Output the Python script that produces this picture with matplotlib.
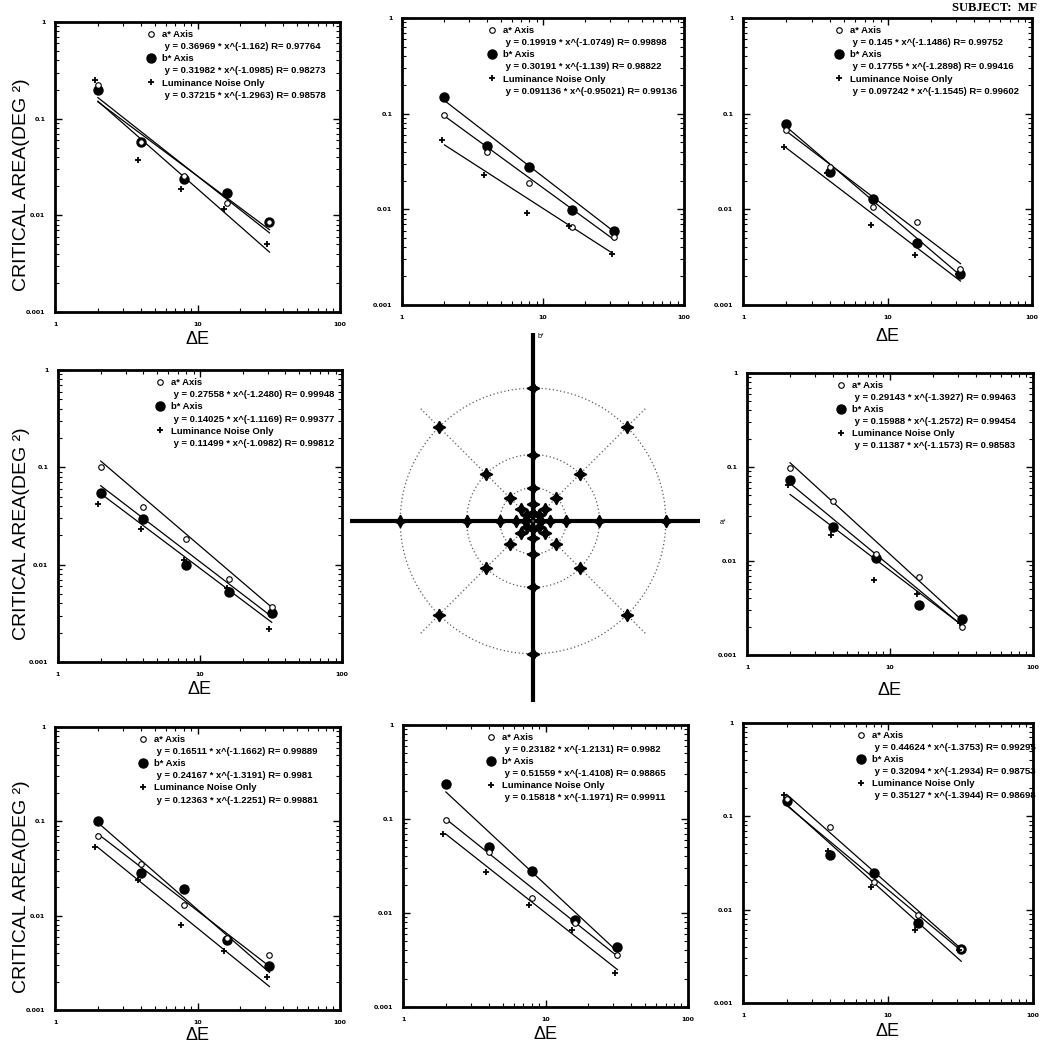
import numpy as np
import matplotlib
matplotlib.use("Agg")
import matplotlib.pyplot as plt
from matplotlib.lines import Line2D
from matplotlib.ticker import FixedLocator, FuncFormatter, LogLocator, NullFormatter

# ---------------- data ----------------
dE = [2, 4, 8, 16, 32]
dE_lum = [1.92, 3.84, 7.68, 15.4, 30.7]
fit_range = [2, 32]

# panels in reading order (centre cell is the colour-plane diagram)
a_axis_vals = [
    [0.223, 0.058, 0.0257, 0.0133, 0.0086],
    [0.0973, 0.0402, 0.0188, 0.0066, 0.0052],
    [0.0679, 0.028, 0.0105, 0.0073, 0.0024],
    [0.101, 0.0393, 0.0183, 0.0072, 0.0037],
    [0.0973, 0.044, 0.0119, 0.0067, 0.0020],
    [0.0695, 0.0357, 0.0131, 0.0058, 0.0038],
    [0.0973, 0.0448, 0.0143, 0.0079, 0.0036],
    [0.155, 0.0769, 0.0198, 0.0088, 0.0038],
]
b_axis_vals = [
    [0.198, 0.058, 0.0238, 0.017, 0.0086],
    [0.151, 0.0454, 0.028, 0.00987, 0.006],
    [0.0784, 0.0243, 0.0128, 0.0045, 0.0021],
    [0.054, 0.0294, 0.010, 0.0053, 0.0032],
    [0.072, 0.0229, 0.0107, 0.0034, 0.0024],
    [0.101, 0.028, 0.0191, 0.0055, 0.0029],
    [0.235, 0.0498, 0.0279, 0.0085, 0.0044],
    [0.145, 0.0382, 0.0247, 0.0072, 0.0038],
]
lum_vals = [
    [0.251, 0.037, 0.0188, 0.0116, 0.0051],
    [0.0533, 0.0226, 0.0091, 0.0067, 0.0034],
    [0.0443, 0.024, 0.0068, 0.0033, 0.0021],
    [0.0425, 0.023, 0.0113, 0.0057, 0.0022],
    [0.0647, 0.019, 0.0063, 0.0045, 0.0022],
    [0.0536, 0.0238, 0.0079, 0.0042, 0.00225],
    [0.0685, 0.0274, 0.0123, 0.0066, 0.0023],
    [0.171, 0.0422, 0.0175, 0.0061, 0.0037],
]

a_coef = ["0.36969", "0.19919", "0.145", "0.27558", "0.29143", "0.16511", "0.23182", "0.44624"]
a_exp = ["-1.162", "-1.0749", "-1.1486", "-1.2480", "-1.3927", "-1.1662", "-1.2131", "-1.3753"]
a_r = ["0.97764", "0.99898", "0.99752", "0.99948", "0.99463", "0.99889", "0.9982", "0.99295"]
b_coef = ["0.31982", "0.30191", "0.17755", "0.14025", "0.15988", "0.24167", "0.51559", "0.32094"]
b_exp = ["-1.0985", "-1.139", "-1.2898", "-1.1169", "-1.2572", "-1.3191", "-1.4108", "-1.2934"]
b_r = ["0.98273", "0.98822", "0.99416", "0.99377", "0.99454", "0.9981", "0.98865", "0.98753"]
l_coef = ["0.37215", "0.091136", "0.097242", "0.11499", "0.11387", "0.12363", "0.15818", "0.35127"]
l_exp = ["-1.2963", "-0.95021", "-1.1545", "-1.0982", "-1.1573", "-1.2251", "-1.1971", "-1.3944"]
l_r = ["0.98578", "0.99136", "0.99602", "0.99812", "0.98583", "0.99881", "0.99911", "0.98698"]

series_labels = ["a* Axis", "b* Axis", "Luminance Noise Only"]
x_ticks = [1, 10, 100]
y_ticks = [0.001, 0.01, 0.1, 1]

# centre diagram
diag_angles = [0, 45, 90, 135, 180, 225, 270, 315]
diag_radii = [2, 4, 8, 16, 32]
ring_radii = [8, 16, 32]
spoke_len = 38.5

# ---------------- layout (pixel boxes: left, right, top, bottom) ----------------
W = H = 1044
boxes = [
    (55, 340, 22, 312),
    (402, 684, 18, 305),
    (743, 1032, 18, 305),
    (58, 342, 370, 662),
    (747, 1033, 373, 655),
    (55, 340, 727, 1010),
    (403, 688, 725, 1007),
    (743, 1033, 723, 1003),
]
legend_x = [0.325, 0.305, 0.32, 0.345, 0.315, 0.295, 0.295, 0.395]
xlabel_pad = [3, 0, 6, 3, 9, 2, 3, 4]
has_xlabel = [True, False, True, True, True, True, True, True]
has_ylabel = [True, False, False, True, False, True, False, False]

fig = plt.figure(figsize=(W / 100, H / 100), dpi=100)
fig.patch.set_facecolor("white")

FONT = "Liberation Sans"
fmt = FuncFormatter(lambda v, _: f"{v:g}")

for i, (l, r, t, b) in enumerate(boxes):
    ax = fig.add_axes([l / W, 1 - b / H, (r - l) / W, (b - t) / H])
    ax.set_xscale("log")
    ax.set_yscale("log")
    ax.set_xlim(1, 100)
    ax.set_ylim(0.001, 1)

    fx = np.array(fit_range, dtype=float)
    for coef, ex in [(a_coef[i], a_exp[i]), (b_coef[i], b_exp[i]), (l_coef[i], l_exp[i])]:
        ax.plot(fx, float(coef) * fx ** float(ex), color="black", lw=0.9)

    ax.plot(dE, a_axis_vals[i], ls="none", marker="o", ms=4, mfc="white", mec="black", mew=0.8, zorder=4)
    ax.plot(dE, b_axis_vals[i], ls="none", marker="o", ms=6.5, mfc="black", mec="black", zorder=3)
    ax.plot(dE_lum, lum_vals[i], ls="none", marker="+", ms=4, mec="black", mew=1.3, zorder=4)

    ax.xaxis.set_major_locator(FixedLocator(x_ticks))
    ax.yaxis.set_major_locator(FixedLocator(y_ticks))
    ax.xaxis.set_minor_locator(LogLocator(base=10, subs=np.arange(2, 10)))
    ax.yaxis.set_minor_locator(LogLocator(base=10, subs=np.arange(2, 10)))
    ax.xaxis.set_major_formatter(fmt)
    ax.yaxis.set_major_formatter(fmt)
    ax.xaxis.set_minor_formatter(NullFormatter())
    ax.yaxis.set_minor_formatter(NullFormatter())
    ax.tick_params(which="both", direction="in", top=True, right=True, labelsize=4.5)
    ax.tick_params(which="major", length=5, width=1.0, pad=7)
    ax.tick_params(which="minor", length=3, width=0.8)
    for lab in ax.get_xticklabels() + ax.get_yticklabels():
        lab.set_fontweight("bold")
    for sp in ax.spines.values():
        sp.set_linewidth(2.0)

    handles = [
        Line2D([], [], ls="none", marker="o", ms=4, mfc="white", mec="black", mew=0.8),
        Line2D([], [], ls="none"),
        Line2D([], [], ls="none", marker="o", ms=6.5, mfc="black", mec="black"),
        Line2D([], [], ls="none"),
        Line2D([], [], ls="none", marker="+", ms=4, mec="black", mew=1.3),
        Line2D([], [], ls="none"),
    ]
    labels = [
        series_labels[0], f" y = {a_coef[i]} * x^({a_exp[i]}) R= {a_r[i]}",
        series_labels[1], f" y = {b_coef[i]} * x^({b_exp[i]}) R= {b_r[i]}",
        series_labels[2], f" y = {l_coef[i]} * x^({l_exp[i]}) R= {l_r[i]}",
    ]
    leg = ax.legend(handles, labels, loc="upper left", bbox_to_anchor=(legend_x[i], 0.972), frameon=False,
                    prop={"family": FONT, "weight": "bold", "size": 6.8},
                    handlelength=0.8, handletextpad=0.75, labelspacing=0.33, borderpad=0.0,
                    borderaxespad=0.0)
    leg.set_zorder(6)

    if has_xlabel[i]:
        ax.set_xlabel("ΔE", fontsize=13, family=FONT, labelpad=xlabel_pad[i])
    if has_ylabel[i]:
        fig.text(22 / W, 1 - ((t + b) / 2 + 18) / H, "CRITICAL AREA(DEG ²)", rotation=90,
                 ha="center", va="center", fontsize=14, family=FONT)

# ---------------- centre a*-b* diagram ----------------
cx, cy, s = 533, 521, 4.15  # centre pixel and px per ΔE unit
L, R, T, B = 350, 700, 333, 702
axc = fig.add_axes([L / W, 1 - B / H, (R - L) / W, (B - T) / H])
axc.set_xlim((L - cx) / s, (R - cx) / s)
axc.set_ylim((cy - B) / s, (cy - T) / s)
axc.axis("off")
axc.axhline(0, color="black", lw=3)
axc.axvline(0, color="black", lw=3)
th = np.linspace(0, 2 * np.pi, 400)
for rr in ring_radii:
    axc.plot(rr * np.cos(th), rr * np.sin(th), color="0.35", lw=0.9, ls=(0, (1, 2)))
for ang in diag_angles:
    if ang % 90:
        a = np.deg2rad(ang)
        axc.plot([0, spoke_len * np.cos(a)], [0, spoke_len * np.sin(a)], color="0.35", lw=0.9, ls=(0, (1, 2)))
for ang in diag_angles:
    a = np.deg2rad(ang)
    rs = np.array(diag_radii, dtype=float)
    axc.plot(rs * np.cos(a), rs * np.sin(a), ls="none", marker=(4, 1, 0), ms=9, color="black")
axc.text(1.0, (cy - 336) / s, "b*", fontsize=5, ha="left", va="center", family=FONT)
fig.text(720 / W, 1 - 523 / H, "a*", fontsize=5, ha="left", va="center", family=FONT)

fig.text(1037 / W, 1 - 8 / H, "SUBJECT:  MF", fontsize=9, ha="right", va="center",
         family="Liberation Serif", weight="bold")

fig.savefig("out.png", dpi=100, facecolor="white")
